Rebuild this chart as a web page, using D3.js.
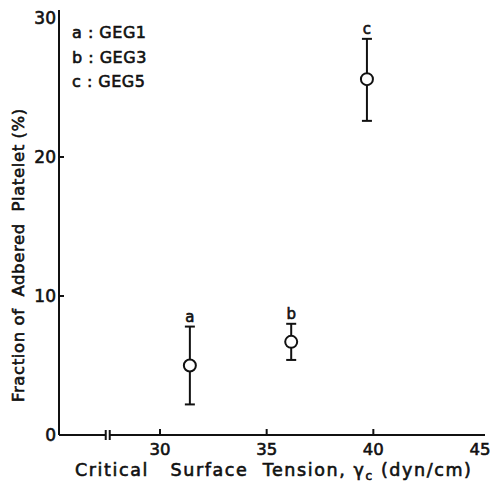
<!DOCTYPE html>
<html>
<head>
<script src="https://cdn.jsdelivr.net/npm/d3@7"></script>
<style>
  body { margin: 0; background: #fff; }
  text { font-family: "DejaVu Sans", sans-serif; fill: #111; stroke: #111; stroke-width: 0.6; white-space: pre; }
</style>
</head>
<body>
<svg width="495" height="487"></svg>
<script>
  // data
  const labels   = ["a", "b", "c"];
  const names    = ["GEG1", "GEG3", "GEG5"];
  const tension  = [31.4, 36.15, 39.7];
  const adhered  = [5.0, 6.7, 25.6];
  const errLow   = [2.2, 5.4, 22.6];
  const errHigh  = [7.8, 8.0, 28.5];
  const xTicks   = [30, 35, 40, 45];
  const yTicks   = [0, 10, 20, 30];

  const svg = d3.select("svg");

  const x = d3.scaleLinear().domain([30, 45]).range([160, 480]);
  const y = d3.scaleLinear().domain([0, 30]).range([435, 18]);
  const x0 = 59, xEnd = 485, brk = x(27.55);

  const axis = svg.append("g").attr("stroke", "#111").attr("stroke-width", 2).attr("fill", "none");

  // y axis
  axis.append("line").attr("x1", x0).attr("x2", x0).attr("y1", 10).attr("y2", y(0));
  axis.selectAll(".yt").data(yTicks.filter(d => d > 0 && d < 30)).enter().append("line")
    .attr("x1", x0).attr("x2", x0 + 5).attr("y1", d => y(d)).attr("y2", d => y(d));

  // x axis with break
  axis.append("line").attr("x1", x0).attr("x2", brk - 2).attr("y1", y(0)).attr("y2", y(0));
  axis.append("line").attr("x1", brk + 2).attr("x2", xEnd).attr("y1", y(0)).attr("y2", y(0));
  axis.selectAll(".brk").data([brk - 2, brk + 2]).enter().append("line")
    .attr("x1", d => d).attr("x2", d => d).attr("y1", y(0) - 5).attr("y2", y(0) + 5);
  axis.selectAll(".xt").data(xTicks.filter(d => d < 45)).enter().append("line")
    .attr("x1", d => x(d)).attr("x2", d => x(d)).attr("y1", y(0)).attr("y2", y(0) - 6);

  svg.selectAll(".ytl").data(yTicks).enter().append("text")
    .attr("x", x0 - 3).attr("y", d => y(d) + 6)
    .attr("text-anchor", "end").attr("font-size", 17).text(d => d);

  svg.selectAll(".xtl").data(xTicks).enter().append("text")
    .attr("x", d => x(d)).attr("y", y(0) + 20)
    .attr("text-anchor", "middle").attr("font-size", 16.5).text(d => d);

  // error bars and points
  const pts = svg.selectAll(".pt").data(labels).enter().append("g");
  pts.append("line").attr("stroke", "#111").attr("stroke-width", 2)
    .attr("x1", (d, i) => x(tension[i])).attr("x2", (d, i) => x(tension[i]))
    .attr("y1", (d, i) => y(errLow[i])).attr("y2", (d, i) => y(errHigh[i]));
  pts.selectAll(".cap").data((d, i) => [[tension[i], errLow[i]], [tension[i], errHigh[i]]])
    .enter().append("line").attr("stroke", "#111").attr("stroke-width", 2)
    .attr("x1", d => x(d[0]) - 5).attr("x2", d => x(d[0]) + 5)
    .attr("y1", d => y(d[1])).attr("y2", d => y(d[1]));
  pts.append("circle").attr("r", 6).attr("fill", "#fff").attr("stroke", "#111").attr("stroke-width", 2)
    .attr("cx", (d, i) => x(tension[i])).attr("cy", (d, i) => y(adhered[i]));
  pts.append("text").attr("text-anchor", "middle").attr("font-size", 15)
    .attr("x", (d, i) => x(tension[i])).attr("y", (d, i) => y(errHigh[i]) - 5)
    .text(d => d);

  // legend
  svg.selectAll(".leg").data(labels).enter().append("text")
    .attr("x", 72).attr("y", (d, i) => 38 + i * 24.5)
    .attr("font-size", 16).attr("letter-spacing", 0.5)
    .text((d, i) => `${d} : ${names[i]}`);

  // axis titles
  const xt = svg.append("text").attr("x", 75).attr("y", 476).attr("font-size", 17.5)
    .attr("letter-spacing", 1.6);
  xt.append("tspan").text("Critical   Surface  Tension, ");
  xt.append("tspan").text("γ");
  xt.append("tspan").attr("font-size", 12).attr("dy", 4).text("c");
  xt.append("tspan").attr("dy", -4).text(" (dyn/cm)");

  svg.append("text")
    .attr("transform", "translate(24,255) rotate(-90)")
    .attr("text-anchor", "middle").attr("font-size", 16.5).attr("letter-spacing", 0.6)
    .text("Fraction of  Adbered  Platelet (%)");
</script>
</body>
</html>
